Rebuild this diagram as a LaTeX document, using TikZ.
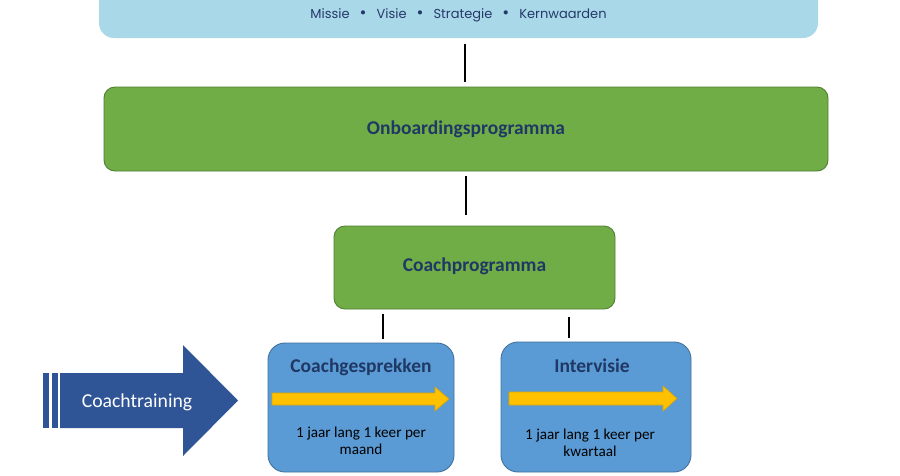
\documentclass[tikz,border=0pt]{standalone}
\usepackage{fontspec}
\setmainfont{Carlito}
\newfontfamily\topfont{Poppins}
\usetikzlibrary{calc,shapes.arrows}
\definecolor{topblue}{HTML}{A9D9E8}
\definecolor{topink}{HTML}{26396B}
\definecolor{grfill}{HTML}{70AD47}
\definecolor{grline}{HTML}{507E32}
\definecolor{blfill}{HTML}{5B9BD5}
\definecolor{blline}{HTML}{41719C}
\definecolor{darkink}{HTML}{1F3864}
\definecolor{trainblue}{HTML}{2F5597}
\definecolor{yellowarr}{HTML}{FFC000}
\definecolor{yellowline}{HTML}{D9A400}
\newcommand{\mybul}{\hspace{10pt}\scalebox{1.3}{\textbullet}\hspace{10pt}}
\tikzset{
  greenbox/.style={draw=grline, line width=0.9pt, fill=grfill, rounded corners=11pt},
  bluebox/.style={draw=blline, line width=0.9pt, fill=blfill, rounded corners=17pt},
  conn/.style={line width=2.4pt, black},
  titletxt/.style={font=\bfseries\fontsize{19.5}{23}\selectfont, text=darkink},
  bodytxt/.style={font=\fontsize{15.2}{16.5}\selectfont, text=black, align=center},
}
\begin{document}
\begin{tikzpicture}[x=1pt,y=-1pt]
\useasboundingbox (0,0) rectangle (900,475);
\fill[white] (0,0) rectangle (900,475);
% top box
\fill[topblue, rounded corners=15pt] (99,-40) rectangle (818,38);
\node (toptext) at (458.5,15) {\topfont\fontsize{13}{14}\selectfont\color{topink}Missie\mybul Visie\mybul Strategie\mybul Kernwaarden};
% onboarding
\draw[greenbox] (104,87) rectangle (828,171);
\node[titletxt] (onb) at (466,129) {Onboardingsprogramma};
% coachprogramma
\draw[greenbox] (334,226) rectangle (615,309);
\node[titletxt] (cp) at (474.5,266) {Coachprogramma};
% blue boxes
\draw[bluebox] (268,343) rectangle (454,472);
\node[titletxt] (cg) at (361,367) {Coachgesprekken};
\node[bodytxt] (cgt) at (361,441) {1 jaar lang 1 keer per\\maand};
\draw[bluebox] (501,342) rectangle (691,472);
\node[titletxt] (iv) at (592,366) {Intervisie};
\node[bodytxt] (ivt) at (590,443) {1 jaar lang 1 keer per\\kwartaal};
% yellow arrows
\draw[fill=yellowarr, draw=yellowline, line width=0.6pt] (272,393) -- (435,393) -- (435,387) -- (449,399) -- (435,411) -- (435,405) -- (272,405) -- cycle;
\draw[fill=yellowarr, draw=yellowline, line width=0.6pt] (509,392) -- (663,392) -- (663,386) -- (677,398.5) -- (663,411) -- (663,405) -- (509,405) -- cycle;
% coachtraining arrow
\fill[trainblue] (43,373) rectangle (49,428);
\fill[trainblue] (52,373) rectangle (58,428);
\fill[trainblue] (60,373) -- (183,373) -- (183,345) -- (238,400.5) -- (183,456) -- (183,428) -- (60,428) -- cycle;
\node (ct) at (137,402) {\fontsize{19.7}{23}\selectfont\color{white}Coachtraining};
% connectors
\coordinate (c1a) at (465,44); \coordinate (c1b) at (465,82);
\coordinate (c2a) at (466,176); \coordinate (c2b) at (466,215);
\coordinate (c3a) at (383,314); \coordinate (c3b) at (383,339);
\coordinate (c4a) at (569,317); \coordinate (c4b) at (569,338);
\draw[conn] (c1a) -- (c1b);
\draw[conn] (c2a) -- (c2b);
\draw[conn] (c3a) -- (c3b);
\draw[conn] (c4a) -- (c4b);
\end{tikzpicture}
\end{document}
